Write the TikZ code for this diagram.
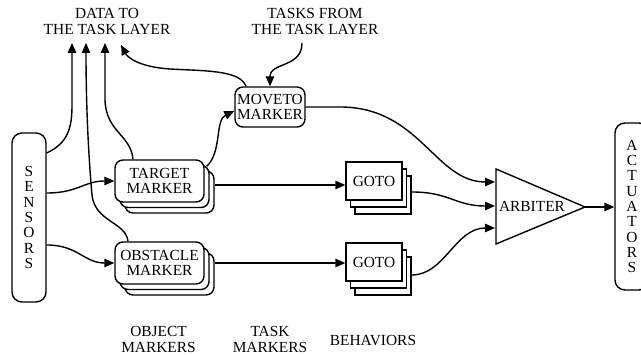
\documentclass[tikz,border=0pt]{standalone}
\usepackage{fontspec}
\setmainfont{Liberation Serif}
\usetikzlibrary{arrows.meta}
\begin{document}
\begin{tikzpicture}[x=1pt,y=-1pt,
  every node/.style={font=\fontsize{15.4}{16}\selectfont, inner sep=0pt},
  wire/.style={line width=1.4pt},
  conn/.style={wire, -{Triangle[length=10pt,width=8.5pt]}},
  markerbox/.style={draw, line width=1.4pt, fill=white, rounded corners=8pt,
    minimum width=89pt, minimum height=42pt, align=center,
    font=\fontsize{15.4}{15.5}\selectfont},
  gotobox/.style={draw, line width=1.4pt, fill=white,
    minimum width=56pt, minimum height=38pt},
  tallbox/.style={draw, line width=1.4pt, rounded corners=10pt,
    minimum width=34pt, align=center, font=\fontsize{15.4}{15.3}\selectfont},
  caption/.style={align=center}
]
\useasboundingbox (0,0) rectangle (641,355);

% captions
\node[caption] (datalbl)  at (107,21)  {DATA TO\\THE TASK LAYER};
\node[caption] (taskslbl) at (315,21)  {TASKS FROM\\THE TASK LAYER};
\node[caption] (objlbl)   at (158.5,339) {OBJECT\\MARKERS};
\node[caption] (tasklbl)  at (270,339) {TASK\\MARKERS};
\node          (behlbl)   at (373,341) {BEHAVIORS};

% ends of the arrows at the task layer
\coordinate (d1) at (72,43);
\coordinate (d2) at (86,43);
\coordinate (d3) at (105,43);
\coordinate (d4) at (121,45);
\coordinate (t0) at (302,43);

% sensors and actuators
\node[tallbox, minimum height=169pt] (sensors) at (29,217.5) {S\\E\\N\\S\\O\\R\\S};
\node[tallbox, minimum height=167pt] (actuators) at (632,206.5) {A\\C\\T\\U\\A\\T\\O\\R\\S};

% object markers (stacked)
\node[markerbox, xshift=10pt, yshift=-11pt] (target3) at (159.5,181) {};
\node[markerbox, xshift=5pt, yshift=-5.5pt] (target2) at (159.5,181) {};
\node[markerbox] (target) at (159.5,181) {TARGET\\MARKER};

\node[markerbox, xshift=10pt, yshift=-11pt] (obstacle3) at (159.5,263) {};
\node[markerbox, xshift=5pt, yshift=-5.5pt] (obstacle2) at (159.5,263) {};
\node[markerbox] (obstacle) at (159.5,263) {OBSTACLE\\MARKER};

% task marker
\node[markerbox, minimum width=70pt, minimum height=40pt] (moveto) at (270,107) {MOVETO\\MARKER};

% behaviors (stacked)
\node[gotobox, xshift=9pt, yshift=-14pt] (goto1c) at (374,181) {};
\node[gotobox, xshift=4.5pt, yshift=-7pt] (goto1b) at (374,181) {};
\node[gotobox] (goto1) at (374,181) {GOTO};

\node[gotobox, xshift=9pt, yshift=-14pt] (goto2c) at (374,262) {};
\node[gotobox, xshift=4.5pt, yshift=-7pt] (goto2b) at (374,262) {};
\node[gotobox] (goto2) at (374,262) {GOTO};

% arbiter
\coordinate (arbtop) at (496,169);
\coordinate (arbbot) at (496,244);
\coordinate (arbtip) at (585,207);
\draw[wire, line join=miter] (arbtop) -- (arbtip) -- (arbbot) -- cycle;
\node (arbiter) at (532,206) {ARBITER};
\coordinate (arbin1) at (495,182);
\coordinate (arbin2) at (495,206);
\coordinate (arbin3) at (495,228);

% sensor outputs
\draw[conn] (sensors.east |- 0,153) .. controls (68,143) and (72,128) .. (72,105) -- (d1);
\draw[conn] (sensors.east |- 0,193) .. controls (78,193) and (84,181) .. (target.west);
\draw[conn] (sensors.east |- 0,245) .. controls (78,245) and (84,263) .. (obstacle.west);

% data sent up to the task layer
\draw[conn] (obstacle.north -| 128,0) .. controls (126,222) and (95,222) .. (92,195)
  .. controls (88,150) and (86,100) .. (d2);
\draw[conn] (target.north -| 133,0) .. controls (131,135) and (106,132) .. (105,100) -- (d3);
\draw[conn] (moveto.north -| 246,0) .. controls (240,70) and (205,71) .. (170,69)
  .. controls (140,67) and (128,58) .. (d4);

% task from the task layer
\draw[conn] (t0) .. controls (302,68) and (270,62) .. (moveto.north);

% target marker feeds the moveto marker
\draw[conn] ([shift={(2,7)}]target.north east) .. controls (222,152) and (215,120) .. ([yshift=-4pt]moveto.west);

% markers to behaviors
\draw[conn] (target3.east |- 0,185) -- (goto1.west |- 0,185);
\draw[conn] (obstacle3.east |- 0,263) -- (goto2.west |- 0,263);

% into the arbiter
\draw[conn] (moveto.east) -- (340,107) .. controls (420,107) and (435,182) .. (arbin1);
\draw[conn] (goto1c.east |- 0,192) .. controls (450,192) and (455,206) .. (arbin2);
\draw[conn] (goto2c.east |- 0,275) .. controls (445,275) and (455,228) .. (arbin3);

% arbiter output
\draw[conn] (arbtip) -- (actuators.west |- arbtip);
\end{tikzpicture}
\end{document}
